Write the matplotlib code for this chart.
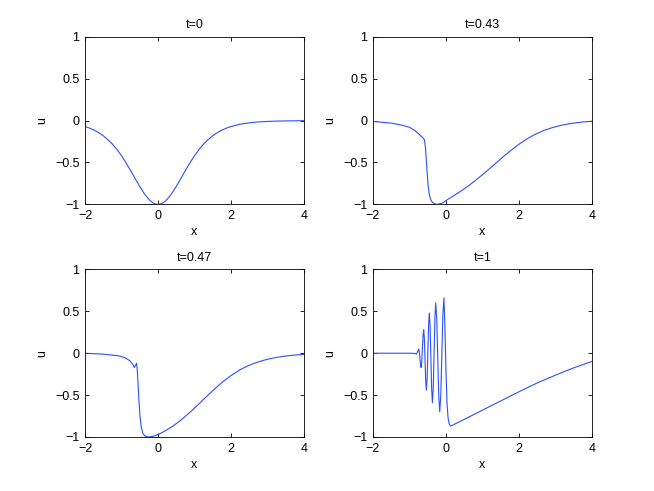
import matplotlib
matplotlib.use('Agg')
import matplotlib.pyplot as plt

plt.rcParams['font.family'] = ['Liberation Sans', 'DejaVu Sans']
plt.rcParams['font.size'] = 9

# values
titles = ['t=0', 't=0.43', 't=0.47', 't=1']
xtick_vals = [-2, 0, 2, 4]
xtick_labels = ['\u22122', '0', '2', '4']
ytick_vals = [-1, -0.5, 0, 0.5, 1]
ytick_labels = ['\u22121', '\u22120.5', '0', '0.5', '1']

x_t0 = [-2.0, -1.875, -1.75, -1.625, -1.5, -1.375, -1.25, -1.125, -1.0, -0.875,
        -0.75, -0.625, -0.5, -0.375, -0.3125, -0.25, -0.1875, -0.125, -0.0625,
        0.0, 0.0625, 0.125, 0.1875, 0.25, 0.3125, 0.375, 0.5, 0.625, 0.75,
        0.875, 1.0, 1.125, 1.25, 1.375, 1.5, 1.625, 1.75, 1.875, 2.0, 2.25,
        2.5, 2.75, 3.0, 3.25, 3.5, 3.75, 4.0]
u_t0 = [-0.071, -0.090, -0.114, -0.144, -0.181, -0.227, -0.280, -0.345, -0.420,
        -0.505, -0.597, -0.693, -0.786, -0.872, -0.908, -0.940, -0.966, -0.985,
        -0.996, -1.0, -0.996, -0.985, -0.966, -0.940, -0.908, -0.872, -0.786,
        -0.693, -0.597, -0.505, -0.420, -0.345, -0.280, -0.227, -0.181, -0.144,
        -0.114, -0.090, -0.071, -0.043, -0.027, -0.016, -0.010, -0.006, -0.004,
        -0.002, -0.001]

x_t043 = [-2.0, -1.5, -1.2, -1.0, -0.85, -0.72, -0.62, -0.59, -0.56, -0.535,
          -0.51, -0.49, -0.45, -0.40, -0.33, -0.26, -0.2, -0.13, -0.06, 0.0,
          0.1, 0.2, 0.42, 0.65, 0.87, 1.1, 1.33, 1.55, 1.78, 2.0, 2.24, 2.45,
          2.69, 2.9, 3.15, 3.4, 3.6, 3.8, 4.0]
u_t043 = [-0.01, -0.03, -0.055, -0.08, -0.12, -0.17, -0.21, -0.23, -0.33, -0.49,
          -0.65, -0.77, -0.90, -0.96, -0.99, -1.0, -0.997, -0.99, -0.975, -0.955,
          -0.928, -0.901, -0.839, -0.768, -0.693, -0.610, -0.523, -0.439, -0.356,
          -0.283, -0.213, -0.163, -0.117, -0.086, -0.057, -0.036, -0.024, -0.015,
          -0.008]

x_t047 = [-2.0, -1.54, -1.09, -0.9, -0.77, -0.68, -0.65, -0.62, -0.585, -0.56,
          -0.53, -0.50, -0.46, -0.41, -0.35, -0.27, -0.2, -0.1, 0.0, 0.1, 0.2,
          0.42, 0.65, 0.88, 1.1, 1.33, 1.55, 1.79, 2.0, 2.25, 2.45, 2.7, 2.95,
          3.16, 3.4, 3.62, 3.8, 4.0]
u_t047 = [0.0, -0.01, -0.03, -0.055, -0.09, -0.14, -0.17, -0.15, -0.12, -0.25,
          -0.50, -0.72, -0.88, -0.96, -0.99, -1.0, -0.997, -0.988, -0.97, -0.95,
          -0.926, -0.867, -0.791, -0.704, -0.614, -0.517, -0.427, -0.336, -0.267,
          -0.197, -0.153, -0.110, -0.078, -0.057, -0.039, -0.027, -0.020, -0.014]

x_t1 = [-2.0, -1.5, -1.0, -0.85, -0.81, -0.775, -0.745, -0.729, -0.7125, -0.696,
        -0.68, -0.6625, -0.645, -0.6275, -0.61, -0.5915, -0.573, -0.5545, -0.536,
        -0.516, -0.4955, -0.475, -0.455, -0.434, -0.4125, -0.391, -0.37, -0.3475,
        -0.325, -0.3025, -0.28, -0.2525, -0.225, -0.1975, -0.17, -0.141, -0.1125,
        -0.084, -0.055, -0.03, 0.0, 0.03, 0.06, 0.09, 0.127, 0.16, 0.2, 0.5, 1.0,
        1.5, 2.0, 2.5, 3.0, 3.5, 4.0]
u_t1 = [0.0, 0.0, 0.0, -0.003, -0.01, 0.02, 0.05, 0.018, -0.06, -0.138, -0.17,
        -0.104, 0.055, 0.214, 0.28, 0.175, -0.08, -0.335, -0.44, -0.306, 0.02,
        0.346, 0.48, 0.324, -0.055, -0.434, -0.59, -0.416, 0.005, 0.426, 0.60,
        0.41, -0.05, -0.51, -0.70, -0.501, -0.02, 0.461, 0.66, 0.35, -0.2, -0.6,
        -0.78, -0.845, -0.868, -0.865, -0.855, -0.79, -0.68, -0.57, -0.46,
        -0.355, -0.262, -0.175, -0.098]

xs = [x_t0, x_t043, x_t047, x_t1]
us = [u_t0, u_t043, u_t047, u_t1]

# matlab default subplot boxes
positions = [[0.13, 0.5838, 0.3347, 0.3412],
             [0.5703, 0.5838, 0.3347, 0.3412],
             [0.13, 0.11, 0.3347, 0.3412],
             [0.5703, 0.11, 0.3347, 0.3412]]

fig = plt.figure(figsize=(6.54, 4.91), dpi=100)

for i in range(4):
    ax = fig.add_axes(positions[i])
    ax.plot(xs[i], us[i], color='#2b50ff', linewidth=0.8)
    ax.set_xlim(-2, 4)
    ax.set_ylim(-1, 1)
    ax.set_xticks(xtick_vals)
    ax.set_xticklabels(xtick_labels)
    ax.set_yticks(ytick_vals)
    ax.set_yticklabels(ytick_labels)
    ax.tick_params(direction='in', top=True, right=True, length=3, width=0.6, pad=4)
    for s in ax.spines.values():
        s.set_linewidth(0.6)
    ax.set_title(titles[i], fontsize=9, pad=6)
    ax.set_xlabel('x', fontsize=9, labelpad=3)
    ax.set_ylabel('u', fontsize=9)
    ax.yaxis.set_label_coords(-0.17, 0.5)

plt.savefig('out.png', dpi=100)
